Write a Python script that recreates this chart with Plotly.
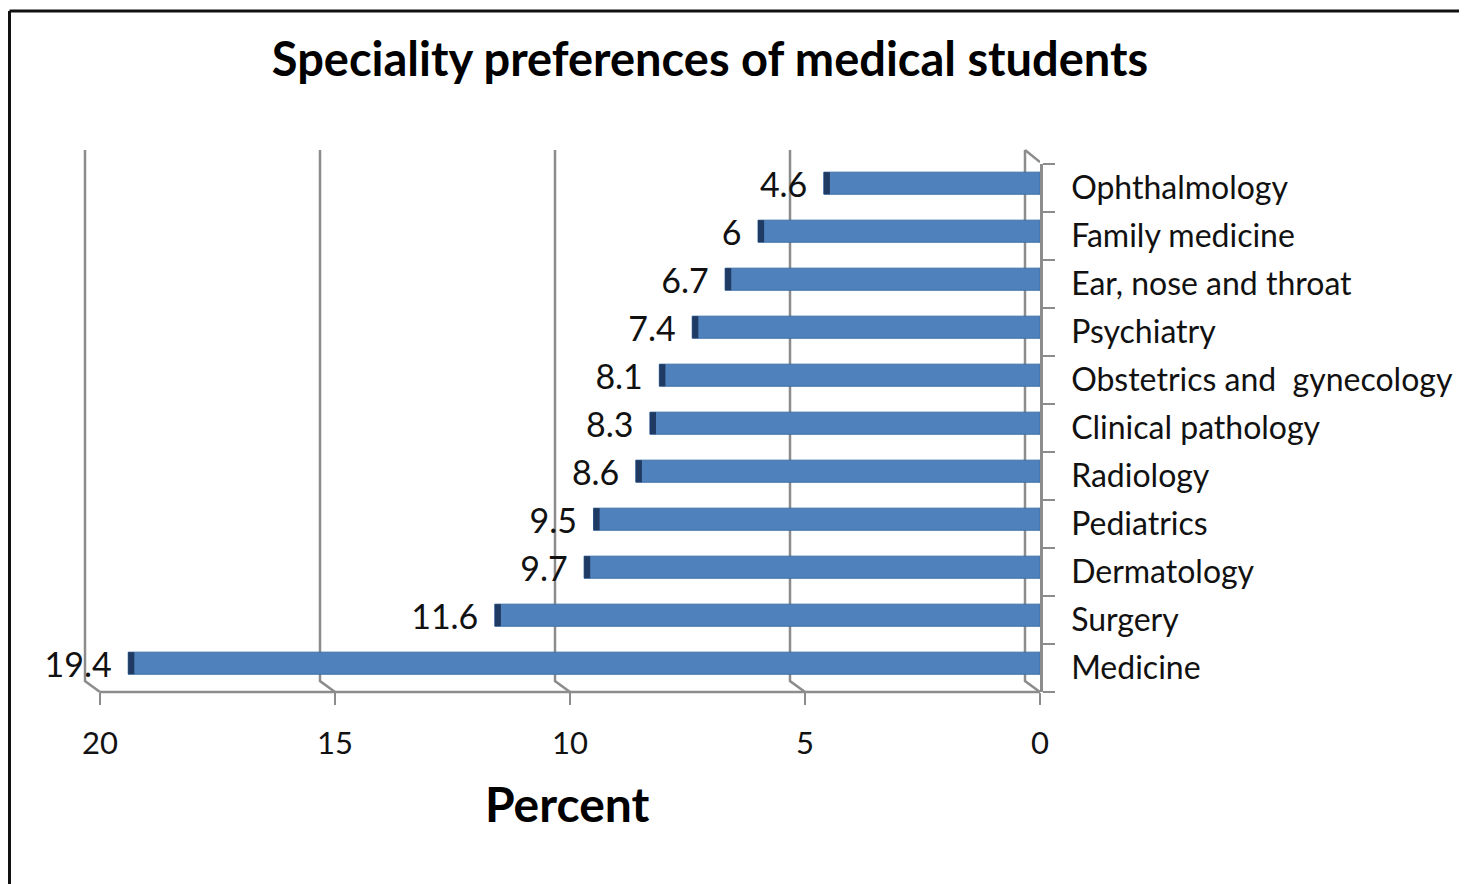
import plotly.graph_objects as go

categories = ["Medicine", "Surgery", "Dermatology", "Pediatrics", "Radiology",
              "Clinical pathology", "Obstetrics and  gynecology", "Psychiatry",
              "Ear, nose and throat", "Family medicine", "Ophthalmology"]
values = [19.4, 11.6, 9.7, 9.5, 8.6, 8.3, 8.1, 7.4, 6.7, 6, 4.6]
labels = ["19.4", "11.6", "9.7", "9.5", "8.6", "8.3", "8.1", "7.4", "6.7", "6", "4.6"]
tick_vals = [20, 15, 10, 5, 0]

FONT = "Lato"
SHIFT = 8  # page body margin
W, H = 1467 - SHIFT, 884 - SHIFT
# plot area, in reference-image pixels
L_ref, R_ref, T_ref, B_ref = 80, 1040, 164, 692
L, R, T, B = L_ref - SHIFT, R_ref - SHIFT, T_ref - SHIFT, B_ref - SHIFT
px_per_unit = 47.0
x_left = (R - L) / px_per_unit

def px_to_paper_x(px_ref):
    return (px_ref - SHIFT - L) / (R - L)

def py_to_paper_y(py_ref):
    return (B - (py_ref - SHIFT)) / (B - T)

fig = go.Figure()

# main bars
fig.add_trace(go.Bar(
    y=categories, x=values, orientation="h",
    marker=dict(color="#4F81BD", line=dict(color="#3F6FA8", width=1)),
    width=0.46, offset=-0.13,
    hoverinfo="skip", showlegend=False,
))
# dark end caps (3D look)
fig.add_trace(go.Bar(
    y=categories, x=[0.13] * len(values), base=[v - 0.13 for v in values], orientation="h",
    marker=dict(color="#1F3B63", line=dict(width=0)),
    width=0.46, offset=-0.13,
    hoverinfo="skip", showlegend=False,
))
# data labels
fig.add_trace(go.Scatter(
    y=categories, x=[v + 0.35 for v in values], mode="text",
    text=labels, textposition="middle left", cliponaxis=False,
    textfont=dict(family=FONT, size=34, color="#111111"),
    hoverinfo="skip", showlegend=False,
))

shapes = []
back = 15 / px_per_unit
y_top = py_to_paper_y(150)
y_back_bottom = py_to_paper_y(681)
for v in tick_vals:
    shapes.append(dict(
        type="path", xref="x", yref="paper",
        path=f"M {v + back},{y_top} L {v + back},{y_back_bottom} L {v},0",
        line=dict(color="#8C8C8C", width=2.5), layer="below",
    ))
# front floor line
shapes.append(dict(type="line", xref="x", yref="paper", x0=20, x1=0, y0=0, y1=0,
                   line=dict(color="#8C8C8C", width=2.5)))
# top-right slanted edge
shapes.append(dict(type="line", xref="x", yref="paper", x0=back, x1=0,
                   y0=y_top, y1=py_to_paper_y(162),
                   line=dict(color="#8C8C8C", width=2.5)))
# outer border (top and left)
shapes.append(dict(type="line", xref="paper", yref="paper",
                   x0=px_to_paper_x(9.5), x1=px_to_paper_x(1480),
                   y0=py_to_paper_y(11), y1=py_to_paper_y(11),
                   line=dict(color="#111111", width=3)))
shapes.append(dict(type="line", xref="paper", yref="paper",
                   x0=px_to_paper_x(9.5), x1=px_to_paper_x(9.5),
                   y0=py_to_paper_y(11), y1=py_to_paper_y(900),
                   line=dict(color="#111111", width=3)))

fig.update_layout(
    width=W, height=H,
    margin=dict(l=L, r=W - R, t=T, b=H - B, pad=0),
    paper_bgcolor="white", plot_bgcolor="white",
    barmode="overlay",
    shapes=shapes,
    title=dict(text="<b>Speciality preferences of medical students</b>",
               x=(710 - SHIFT) / W, xanchor="center", y=1 - (60 - SHIFT) / H, yanchor="middle",
               yref="container",
               font=dict(family=FONT, size=47, color="#000000")),
    annotations=[dict(text="<b>Percent</b>", xref="paper", yref="paper",
                      x=px_to_paper_x(567), y=py_to_paper_y(803),
                      showarrow=False, xanchor="center", yanchor="middle",
                      font=dict(family=FONT, size=48, color="#000000"))],
    xaxis=dict(range=[x_left, 0], tickvals=tick_vals, ticktext=[str(t) for t in tick_vals],
               showgrid=False, zeroline=False, showline=False,
               ticks="outside", ticklen=12, tickwidth=2, tickcolor="#8C8C8C",
               tickfont=dict(family=FONT, size=31, color="#111111"),
               ticklabelstandoff=12, fixedrange=True),
    yaxis=dict(side="right", type="category", categoryorder="array", categoryarray=categories,
               range=[-0.5, len(categories) - 0.5],
               showgrid=False, zeroline=False, showline=True, linecolor="#8C8C8C", linewidth=2.5,
               ticks="outside", tickson="boundaries", ticklen=12, tickwidth=2, tickcolor="#8C8C8C",
               tickfont=dict(family=FONT, size=32, color="#111111"),
               ticklabelstandoff=22, fixedrange=True),
)

fig.write_html("out.html")
